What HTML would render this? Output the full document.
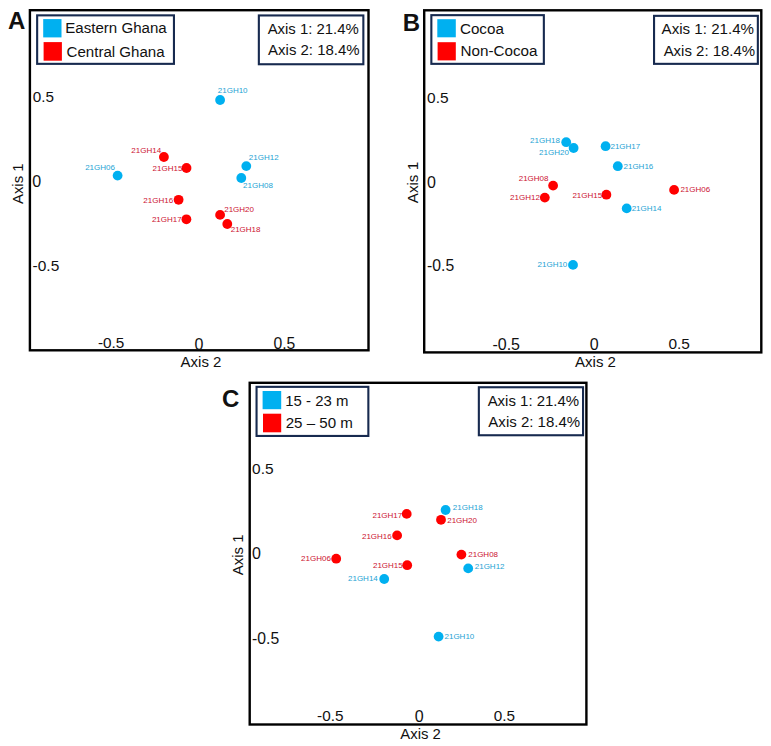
<!DOCTYPE html><html><head><meta charset="utf-8"><style>html,body{margin:0;padding:0;background:#fff;}svg{display:block;}text{font-family:"Liberation Sans",sans-serif;}</style></head><body>
<svg width="771" height="746" viewBox="0 0 771 746">
<rect x="0" y="0" width="771" height="746" fill="#fff"/>
<rect x="29.9" y="10.2" width="338.6" height="340.1" fill="none" stroke="#000" stroke-width="2.4"/>
<rect x="37.15" y="15.35" width="136.8" height="48.5" fill="#fff" stroke="#172a4f" stroke-width="2.1"/>
<rect x="258.85" y="15.45" width="104.5" height="48.8" fill="#fff" stroke="#172a4f" stroke-width="2.1"/>
<rect x="424.2" y="10.3" width="337.1" height="342.1" fill="none" stroke="#000" stroke-width="2.4"/>
<rect x="431.35" y="15.15" width="112.5" height="48.7" fill="#fff" stroke="#172a4f" stroke-width="2.1"/>
<rect x="654.05" y="15.85" width="103.8" height="48" fill="#fff" stroke="#172a4f" stroke-width="2.1"/>
<rect x="249.7" y="382.8" width="336.7" height="341.7" fill="none" stroke="#000" stroke-width="2.4"/>
<rect x="256.55" y="386.85" width="111.8" height="49.1" fill="#fff" stroke="#172a4f" stroke-width="2.1"/>
<rect x="478.85" y="387.25" width="104.2" height="48" fill="#fff" stroke="#172a4f" stroke-width="2.1"/>
<rect x="43.2" y="19.1" width="18.3" height="18.3" fill="#00b0f0"/>
<rect x="43.6" y="42.1" width="18.3" height="18.6" fill="#ff0000"/>
<rect x="437.3" y="19.2" width="18.5" height="18.1" fill="#00b0f0"/>
<rect x="437.6" y="42.2" width="18.2" height="18.2" fill="#ff0000"/>
<rect x="262.6" y="391" width="18.6" height="18.2" fill="#00b0f0"/>
<rect x="263" y="413.7" width="18.2" height="18.6" fill="#ff0000"/>
<circle cx="220.1" cy="100" r="4.9" fill="#00b0f0"/>
<circle cx="163.9" cy="157" r="4.9" fill="#ff0000"/>
<circle cx="186.5" cy="168" r="4.9" fill="#ff0000"/>
<circle cx="117.6" cy="175.6" r="4.9" fill="#00b0f0"/>
<circle cx="246.3" cy="166.1" r="4.9" fill="#00b0f0"/>
<circle cx="241.3" cy="178" r="4.9" fill="#00b0f0"/>
<circle cx="178.6" cy="199.8" r="4.9" fill="#ff0000"/>
<circle cx="186.4" cy="219.3" r="4.9" fill="#ff0000"/>
<circle cx="220.1" cy="214.9" r="4.9" fill="#ff0000"/>
<circle cx="227.3" cy="224" r="4.9" fill="#ff0000"/>
<circle cx="566.2" cy="142.2" r="4.9" fill="#00b0f0"/>
<circle cx="573.6" cy="148" r="4.9" fill="#00b0f0"/>
<circle cx="605.6" cy="146.2" r="4.9" fill="#00b0f0"/>
<circle cx="617.8" cy="166.2" r="4.9" fill="#00b0f0"/>
<circle cx="553.1" cy="185.6" r="4.9" fill="#ff0000"/>
<circle cx="544.8" cy="197.6" r="4.9" fill="#ff0000"/>
<circle cx="606.4" cy="194.7" r="4.9" fill="#ff0000"/>
<circle cx="674.1" cy="189.9" r="4.9" fill="#ff0000"/>
<circle cx="626.7" cy="208.4" r="4.9" fill="#00b0f0"/>
<circle cx="573" cy="264.9" r="4.9" fill="#00b0f0"/>
<circle cx="406.7" cy="513.9" r="4.9" fill="#ff0000"/>
<circle cx="445.6" cy="510" r="4.9" fill="#00b0f0"/>
<circle cx="441" cy="519.8" r="4.9" fill="#ff0000"/>
<circle cx="397.1" cy="535.4" r="4.9" fill="#ff0000"/>
<circle cx="336.2" cy="558.7" r="4.9" fill="#ff0000"/>
<circle cx="407.2" cy="565.2" r="4.9" fill="#ff0000"/>
<circle cx="384.2" cy="579" r="4.9" fill="#00b0f0"/>
<circle cx="461.4" cy="554.6" r="4.9" fill="#ff0000"/>
<circle cx="468.2" cy="568.4" r="4.9" fill="#00b0f0"/>
<circle cx="438.6" cy="636.6" r="4.9" fill="#00b0f0"/>
<text x="8.09" y="28.86" font-size="24" font-weight="bold" fill="#111111">A</text>
<text x="402.8" y="30.98" font-size="24" font-weight="bold" fill="#111111">B</text>
<text x="222.02" y="406.64" font-size="24" font-weight="bold" fill="#111111">C</text>
<text x="65.3" y="33.42" font-size="15.08" fill="#111111">Eastern Ghana</text>
<text x="66.54" y="56.68" font-size="15.08" fill="#111111">Central Ghana</text>
<text x="459.93" y="33.92" font-size="15.2" fill="#111111">Cocoa</text>
<text x="460.49" y="56.22" font-size="15.24" fill="#111111">Non-Cocoa</text>
<text x="285.3" y="405.56" font-size="14.93" fill="#111111">15 - 23 m</text>
<text x="285.66" y="427.7" font-size="15.11" fill="#111111">25 – 50 m</text>
<text x="267.63" y="33.92" font-size="14.92" fill="#111111">Axis 1: 21.4%</text>
<text x="268.1" y="55.4" font-size="14.98" fill="#111111">Axis 2: 18.4%</text>
<text x="661.62" y="33.88" font-size="15.11" fill="#111111">Axis 1: 21.4%</text>
<text x="663.63" y="56.14" font-size="14.98" fill="#111111">Axis 2: 18.4%</text>
<text x="487.63" y="405.52" font-size="14.98" fill="#111111">Axis 1: 21.4%</text>
<text x="488.37" y="426.52" font-size="15.03" fill="#111111">Axis 2: 18.4%</text>
<text x="32.85" y="101.64" font-size="15.25" fill="#111111">0.5</text>
<text x="32.33" y="186.76" font-size="16" fill="#111111">0</text>
<text x="32.62" y="271" font-size="15.48" fill="#111111">-0.5</text>
<text x="97.97" y="348.1" font-size="15.32" fill="#111111">-0.5</text>
<text x="194.48" y="349.9" font-size="16" fill="#111111">0</text>
<text x="273.45" y="349" font-size="15.71" fill="#111111">0.5</text>
<text x="427.05" y="102.62" font-size="15.46" fill="#111111">0.5</text>
<text x="426.93" y="188.28" font-size="16" fill="#111111">0</text>
<text x="427.11" y="271.44" font-size="15.76" fill="#111111">-0.5</text>
<text x="492.44" y="350.02" font-size="16" fill="#111111">-0.5</text>
<text x="589.81" y="350.02" font-size="16" fill="#111111">0</text>
<text x="668.49" y="349.12" font-size="15.42" fill="#111111">0.5</text>
<text x="252.05" y="474.34" font-size="15.46" fill="#111111">0.5</text>
<text x="251.93" y="559.32" font-size="16" fill="#111111">0</text>
<text x="252.11" y="643.72" font-size="15.76" fill="#111111">-0.5</text>
<text x="317.11" y="720.52" font-size="15.3" fill="#111111">-0.5</text>
<text x="414.83" y="721.52" font-size="16" fill="#111111">0</text>
<text x="493.68" y="720.7" font-size="15.3" fill="#111111">0.5</text>
<text x="180.56" y="367.48" font-size="15.01" fill="#111111">Axis 2</text>
<text x="575" y="367.24" font-size="15.04" fill="#111111">Axis 2</text>
<text x="400.32" y="739" font-size="14.91" fill="#111111">Axis 2</text>
<text transform="translate(23.28,204.02) rotate(-90)" font-size="14.9" fill="#111111">Axis 1</text>
<text transform="translate(418.16,203.16) rotate(-90)" font-size="15.15" fill="#111111">Axis 1</text>
<text transform="translate(243.16,575.15) rotate(-90)" font-size="14.94" fill="#111111">Axis 1</text>
<text x="217.78" y="93.32" font-size="8" fill="#1ea3d4">21GH10</text>
<text x="131.35" y="153.38" font-size="8" fill="#cc1232">21GH14</text>
<text x="152.61" y="170.76" font-size="8" fill="#cc1232">21GH15</text>
<text x="85.18" y="170.36" font-size="8" fill="#1ea3d4">21GH06</text>
<text x="248.79" y="160.22" font-size="8" fill="#1ea3d4">21GH12</text>
<text x="243.07" y="188.1" font-size="8" fill="#1ea3d4">21GH08</text>
<text x="143.3" y="202.66" font-size="8" fill="#cc1232">21GH16</text>
<text x="151.89" y="221.66" font-size="8" fill="#cc1232">21GH17</text>
<text x="224.22" y="212.26" font-size="8" fill="#cc1232">21GH20</text>
<text x="230.72" y="232.14" font-size="8" fill="#cc1232">21GH18</text>
<text x="530.05" y="143.04" font-size="8" fill="#1ea3d4">21GH18</text>
<text x="539.07" y="155.48" font-size="8" fill="#1ea3d4">21GH20</text>
<text x="610.46" y="149.22" font-size="8" fill="#1ea3d4">21GH17</text>
<text x="623.5" y="168.82" font-size="8" fill="#1ea3d4">21GH16</text>
<text x="518.71" y="181" font-size="8" fill="#cc1232">21GH08</text>
<text x="510.05" y="200.04" font-size="8" fill="#cc1232">21GH12</text>
<text x="572.43" y="198.28" font-size="8" fill="#cc1232">21GH15</text>
<text x="680.39" y="192.1" font-size="8" fill="#cc1232">21GH06</text>
<text x="631.68" y="211.26" font-size="8" fill="#1ea3d4">21GH14</text>
<text x="537.52" y="267.46" font-size="8" fill="#1ea3d4">21GH10</text>
<text x="372.47" y="517.62" font-size="8" fill="#cc1232">21GH17</text>
<text x="452.83" y="510.44" font-size="8" fill="#1ea3d4">21GH18</text>
<text x="447.22" y="523.16" font-size="8" fill="#cc1232">21GH20</text>
<text x="361.96" y="539.26" font-size="8" fill="#cc1232">21GH16</text>
<text x="301.08" y="561.38" font-size="8" fill="#cc1232">21GH06</text>
<text x="372.97" y="567.88" font-size="8" fill="#cc1232">21GH15</text>
<text x="347.99" y="580.88" font-size="8" fill="#1ea3d4">21GH14</text>
<text x="468.24" y="557.32" font-size="8" fill="#cc1232">21GH08</text>
<text x="474.74" y="569.1" font-size="8" fill="#1ea3d4">21GH12</text>
<text x="444.49" y="639.1" font-size="8" fill="#1ea3d4">21GH10</text>
</svg></body></html>
